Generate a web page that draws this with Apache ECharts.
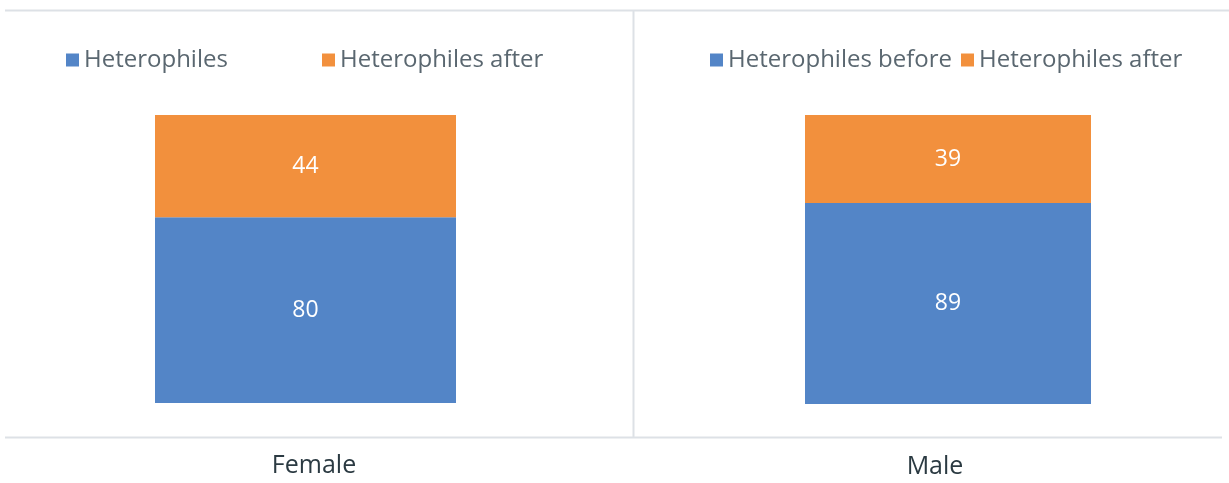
<!DOCTYPE html>
<html>
<head>
<meta charset="utf-8">
<script src="https://cdn.jsdelivr.net/npm/echarts@6/dist/echarts.min.js"></script>
<style>
  html, body { margin: 0; padding: 0; background: #ffffff; }
  #chart { width: 1229px; height: 483px; }
</style>
</head>
<body>
<div id="chart"></div>
<script>
// Heterophile counts per sex, before and after
const panels = ['Female', 'Male'];
const beforeNames = ['Heterophiles', 'Heterophiles before'];
const afterName = 'Heterophiles after';
const beforeValues = [80, 89];
const afterValues = [44, 39];

const BLUE = '#5385C7';
const ORANGE = '#F2903D';
const FONT = '"Open Sans", "Noto Sans", sans-serif';

// each panel is a 100% stacked column: share of the panel total
function share(v, i) { return v / (beforeValues[i] + afterValues[i]) * 100; }

const gridBoxes = [
  { left: 155, top: 115, width: 301, height: 288 },
  { left: 805, top: 115, width: 286, height: 289 }
];
// category captions sit a little off the column centres
const captionPadding = [[0, 0, 0, 17], [0, 26, 0, 0]];

const label = {
  show: true,
  position: 'inside',
  color: '#ffffff',
  fontFamily: FONT,
  fontSize: 23
};

const series = [];
panels.forEach((p, i) => {
  series.push({
    name: beforeNames[i],
    type: 'bar',
    stack: 'total' + i,
    xAxisIndex: i,
    yAxisIndex: i,
    barWidth: '100%',
    itemStyle: { color: BLUE },
    label: Object.assign({ formatter: () => String(beforeValues[i]) }, label),
    data: [share(beforeValues[i], i)]
  });
  series.push({
    name: afterName,
    type: 'bar',
    stack: 'total' + i,
    xAxisIndex: i,
    yAxisIndex: i,
    barWidth: '100%',
    itemStyle: { color: ORANGE },
    label: Object.assign({ formatter: () => String(afterValues[i]) }, label),
    data: [share(afterValues[i], i)]
  });
});

const legendText = { color: '#5a6770', fontFamily: FONT, fontSize: 24 };

// one legend entry per component so each sits at its own spot in the panel
function legendItem(name, left) {
  return {
    data: [name],
    left: left, top: 43,
    icon: 'rect', itemWidth: 13, itemHeight: 13,
    textStyle: legendText, selectedMode: false
  };
}

const option = {
  animation: false,
  backgroundColor: '#ffffff',
  textStyle: { fontFamily: FONT },
  legend: [
    legendItem(beforeNames[0], 61),
    legendItem(afterName, 317),
    legendItem(beforeNames[1], 705),
    legendItem(afterName, 956)
  ],
  grid: gridBoxes.map(g => Object.assign({ containLabel: false }, g)),
  xAxis: panels.map((p, i) => ({
    type: 'category',
    gridIndex: i,
    data: [p],
    axisLine: { show: false },
    axisTick: { show: false },
    axisLabel: {
      margin: 50,
      padding: captionPadding[i],
      color: '#2b3a42',
      fontFamily: FONT,
      fontSize: 25
    }
  })),
  yAxis: panels.map((p, i) => ({
    type: 'value',
    gridIndex: i,
    min: 0,
    max: 100,
    show: false
  })),
  graphic: [
    { type: 'line', shape: { x1: 5, y1: 10.5, x2: 1229, y2: 10.5 }, style: { stroke: '#dde1e6', lineWidth: 2 }, silent: true },
    { type: 'line', shape: { x1: 633.5, y1: 10, x2: 633.5, y2: 437 }, style: { stroke: '#dde1e6', lineWidth: 2 }, silent: true },
    { type: 'line', shape: { x1: 5, y1: 437.5, x2: 1222, y2: 437.5 }, style: { stroke: '#dde1e6', lineWidth: 2 }, silent: true }
  ],
  series: series
};

echarts.init(document.getElementById('chart'), null, { renderer: 'canvas' }).setOption(option);
</script>
</body>
</html>
